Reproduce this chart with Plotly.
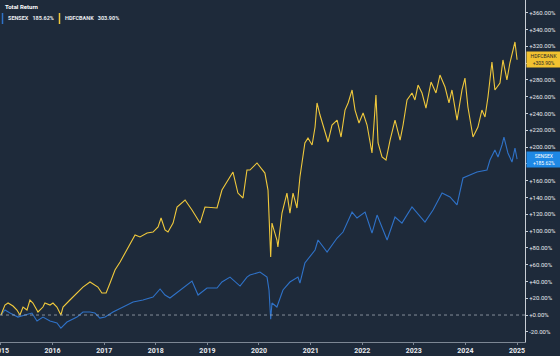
import plotly.graph_objects as go

# ---------------- data ----------------
hdfc_dates = [
    "2015-01-01", "2015-01-29", "2015-02-20", "2015-03-27", "2015-04-24", "2015-05-15", "2015-06-06",
    "2015-07-04", "2015-07-25", "2015-08-15", "2015-09-20", "2015-10-25", "2015-11-08", "2015-12-14",
    "2016-01-04", "2016-02-01", "2016-02-29", "2016-03-15", "2016-05-03", "2016-06-22", "2016-08-03",
    "2016-09-22", "2016-10-27", "2016-11-17", "2016-12-15", "2017-01-14", "2017-02-11", "2017-03-18",
    "2017-04-23", "2017-05-28", "2017-07-03", "2017-08-07", "2017-09-11", "2017-10-31", "2017-12-12",
    "2018-01-17", "2018-02-07", "2018-03-07", "2018-03-28", "2018-05-03", "2018-05-31", "2018-07-27",
    "2018-09-14", "2018-11-10", "2018-12-15", "2019-03-10", "2019-04-14", "2019-07-01", "2019-08-05",
    "2019-09-10", "2019-10-08", "2019-10-29", "2019-12-18", "2020-01-22", "2020-02-12", "2020-03-05",
    "2020-03-19", "2020-03-24", "2020-04-02", "2020-05-07", "2020-05-14", "2020-06-12", "2020-07-17",
    "2020-08-07", "2020-08-29", "2020-09-26", "2020-10-17", "2020-11-07", "2020-11-21", "2020-12-13",
    "2021-01-11", "2021-02-01", "2021-02-15", "2021-03-08", "2021-03-30", "2021-05-04", "2021-06-01",
    "2021-07-07", "2021-08-04", "2021-09-01", "2021-09-23", "2021-10-21", "2021-11-11", "2021-12-09",
    "2022-01-07", "2022-02-04", "2022-03-11", "2022-04-08", "2022-04-23", "2022-05-21", "2022-06-18",
    "2022-07-17", "2022-08-21", "2022-09-26", "2022-10-17", "2022-11-14", "2022-12-19", "2023-01-09",
    "2023-01-31", "2023-02-28", "2023-03-28", "2023-05-03", "2023-06-07", "2023-07-05", "2023-08-10",
    "2023-09-07", "2023-09-28", "2023-11-03", "2023-12-08", "2023-12-29", "2024-01-19", "2024-02-24",
    "2024-03-30", "2024-04-27", "2024-05-19", "2024-06-09", "2024-07-07", "2024-07-28", "2024-09-02",
    "2024-09-23", "2024-10-21", "2024-11-11", "2024-12-17", "2025-01-01",
]
hdfc_values = [
    0, 11.9, 14.3, 10.7, 6.0, 0, 9.5,
    6.0, 17.9, 14.3, 3.6, 9.5, 14.3, 11.9,
    14.3, 9.5, 0, 9.5, 17.9, 26.2, 33.3,
    39.3, 35.7, 33.3, 26.2, 26.2, 38.1, 53.6,
    63.1, 73.8, 83.3, 95.2, 92.9, 97.6, 98.8,
    104.8, 115.5, 101.2, 98.8, 109.5, 128.6, 136.9,
    125.0, 109.5, 128.6, 127.4, 148.8, 170.2, 145.2,
    139.3, 172.6, 172.6, 181.0, 172.6, 169.0, 148.8,
    97.6, 69.0, 109.5, 89.3, 81.0, 121.4, 145.2,
    121.4, 145.2, 127.4, 164.3, 186.9, 204.8, 210.7,
    202.4, 223.8, 252.4, 238.1, 226.2, 206.0, 226.2,
    232.1, 211.9, 244.0, 252.4, 267.9, 244.0, 228.6,
    240.5, 226.2, 192.9, 261.9, 204.8, 188.1, 184.5,
    208.3, 232.1, 208.3, 226.2, 256.0, 264.3, 256.0,
    273.8, 264.3, 246.4, 277.4, 264.3, 285.7, 271.4,
    252.4, 267.9, 232.1, 267.9, 282.1, 247.6, 211.9,
    223.8, 244.0, 235.7, 259.5, 301.2, 267.9, 276.2,
    303.6, 279.8, 300.0, 325.0, 303.9,
]

sensex_dates = [
    "2015-01-01", "2015-01-29", "2015-03-06", "2015-05-01", "2015-06-20", "2015-08-08", "2015-09-13",
    "2015-10-25", "2015-12-14", "2016-02-01", "2016-02-29", "2016-04-12", "2016-06-22", "2016-08-03",
    "2016-09-22", "2016-10-27", "2016-12-01", "2017-01-07", "2017-03-04", "2017-05-14", "2017-07-24",
    "2017-10-02", "2017-12-12", "2018-01-31", "2018-03-07", "2018-04-11", "2018-06-21",
    "2018-09-14", "2018-10-27", "2018-12-29", "2019-03-10", "2019-04-14", "2019-06-10",
    "2019-08-20", "2019-10-08", "2019-10-29", "2020-01-08", "2020-02-27", "2020-03-12", "2020-03-24",
    "2020-04-02", "2020-05-07", "2020-06-19", "2020-08-07", "2020-10-03", "2020-10-17", "2020-11-21",
    "2021-02-01", "2021-02-22", "2021-04-27", "2021-07-07", "2021-08-18", "2021-10-21", "2021-11-25",
    "2022-01-21", "2022-03-11", "2022-04-16", "2022-06-26", "2022-08-21", "2022-10-09", "2022-12-19",
    "2023-03-21", "2023-05-17", "2023-07-20", "2023-09-14", "2023-11-03", "2023-12-15", "2024-03-23",
    "2024-06-02", "2024-06-23", "2024-07-28", "2024-08-19", "2024-09-16", "2024-09-30", "2024-10-28",
    "2024-11-26", "2024-12-17", "2025-01-01",
]
sensex_values = [
    0, 6.0, 2.4, -2.4, 0, 2.4, -7.1,
    -2.4, -7.1, -9.5, -15.5, -8.3, -2.4, 3.6,
    3.6, 2.4, -3.6, -2.4, 3.6, 9.5, 15.5,
    17.9, 21.4, 31.0, 23.8, 20.2, 29.8,
    40.5, 23.8, 32.1, 32.1, 39.3, 45.2,
    34.5, 45.2, 47.6, 51.2, 45.2, 29.8, -5.0,
    14.3, 9.5, 29.8, 39.3, 45.2, 38.1, 61.9,
    77.4, 89.3, 75.0, 91.7, 98.8, 122.6, 115.5,
    122.6, 97.6, 119.0, 89.3, 116.7, 109.5, 128.6,
    110.7, 125.0, 145.2, 140.5, 131.0, 163.1, 170.2,
    172.6, 184.5, 196.4, 188.1, 202.4, 211.9, 192.9,
    182.1, 198.8, 185.62,
]

series_names = ["SENSEX", "HDFCBANK"]
final_returns = [185.62, 303.90]
year_ticks = ["2015", "2016", "2017", "2018", "2019", "2020", "2021", "2022", "2023", "2024", "2025"]
y_ticks = list(range(-20, 361, 20))
y_ticks_hidden = [180, 300]   # covered by the end-value labels in the reference

# ---------------- styling ----------------
BG = "#1e2a3a"
BLUE = "#2f72c8"
YELLOW = "#f0c93c"
FONT = "Roboto"

fig = go.Figure()
fig.add_trace(go.Scatter(x=sensex_dates, y=sensex_values, mode="lines",
                         line=dict(color=BLUE, width=1.1), name=series_names[0]))
fig.add_trace(go.Scatter(x=hdfc_dates, y=hdfc_values, mode="lines",
                         line=dict(color=YELLOW, width=1.1), name=series_names[1]))

def fmt(v):
    return ("+" if v >= 0 else "") + f"{v:.2f}%"

fig.update_layout(
    width=560, height=356,
    margin=dict(l=0, r=35, t=0, b=14, autoexpand=False),
    paper_bgcolor=BG, plot_bgcolor=BG,
    showlegend=False,
    font=dict(family=FONT, color="#e8ebef"),
    xaxis=dict(
        type="date",
        range=["2014-12-25", "2025-02-26"],
        tickvals=[f"{y}-01-01" for y in year_ticks],
        ticktext=year_ticks,
        tickfont=dict(size=7, color="#e8ebef", family=FONT, weight="bold"),
        showline=True, linecolor="#7d8794", linewidth=1,
        ticks="outside", ticklen=2, tickcolor="#7d8794",
        ticklabeloverflow="allow",
        showgrid=False, zeroline=False, automargin=False,
    ),
    yaxis=dict(
        side="right",
        range=[-32.1, 375],
        tickvals=y_ticks,
        ticktext=["" if v in y_ticks_hidden else fmt(v) for v in y_ticks],
        tickfont=dict(size=6, color="#e8ebef", family=FONT),
        showline=True, linecolor="#c9ced5", linewidth=1,
        ticks="outside", ticklen=2, tickcolor="#c9ced5",
        showgrid=False, zeroline=False, automargin=False,
    ),
)

# zero reference line
fig.add_shape(type="line", xref="paper", yref="y", x0=0, x1=1, y0=0, y1=0,
              line=dict(color="#a0a8b2", width=0.8, dash="dot"))

# end-value labels
fig.add_annotation(xref="paper", yref="y", x=1, y=final_returns[1], xanchor="left", yanchor="middle",
                   xshift=1, text=f"{series_names[1]}<br>{fmt(final_returns[1])}", showarrow=False,
                   bgcolor="#f2c230", font=dict(size=5, color="#2a2a2a", family=FONT),
                   width=32, borderpad=1, align="center")
fig.add_annotation(xref="paper", yref="y", x=1, y=final_returns[0], xanchor="left", yanchor="middle",
                   xshift=1, text=f"{series_names[0]}<br>{fmt(final_returns[0])}", showarrow=False,
                   bgcolor="#1e88e5", font=dict(size=5, color="#ffffff", family=FONT),
                   width=32, borderpad=1, align="center")

# header legend
fig.add_annotation(xref="paper", yref="paper", x=0.005, y=1 - 6 / 342, xanchor="left", yanchor="middle",
                   text="<b>Total Return</b>", showarrow=False,
                   font=dict(size=6, color="#ffffff", family=FONT))
fig.add_shape(type="line", xref="paper", yref="paper", x0=2.5 / 525, x1=2.5 / 525,
              y0=1 - 13 / 342, y1=1 - 24 / 342, line=dict(color=BLUE, width=1.5))
fig.add_annotation(xref="paper", yref="paper", x=6 / 525, y=1 - 18 / 342, xanchor="left", yanchor="middle",
                   text=f"<b>{series_names[0]}</b>   <b>{final_returns[0]:.2f}%</b>", showarrow=False,
                   font=dict(size=5.5, color="#e8ebef", family=FONT))
fig.add_shape(type="line", xref="paper", yref="paper", x0=59.5 / 525, x1=59.5 / 525,
              y0=1 - 13 / 342, y1=1 - 24 / 342, line=dict(color=YELLOW, width=1.5))
fig.add_annotation(xref="paper", yref="paper", x=63 / 525, y=1 - 18 / 342, xanchor="left", yanchor="middle",
                   text=f"<b>{series_names[1]}</b>   <b>{final_returns[1]:.2f}%</b>", showarrow=False,
                   font=dict(size=5.5, color="#e8ebef", family=FONT))

fig.write_html("out.html",
               config={"displayModeBar": False},
               post_script="document.body.style.margin='0';document.body.style.overflow='hidden';")
